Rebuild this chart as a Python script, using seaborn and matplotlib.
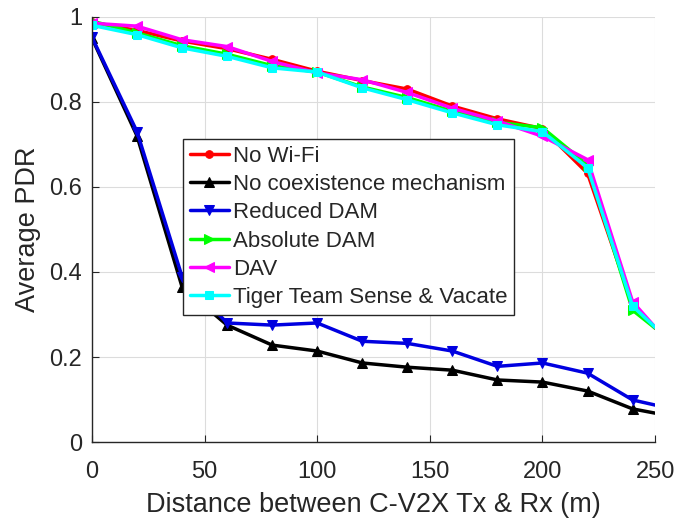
import matplotlib
matplotlib.use("Agg")
import matplotlib.pyplot as plt
import numpy as np
import pandas as pd
import seaborn as sns

# distance (m); last point closes the line at the axis edge, no marker there
distance = [0, 20, 40, 60, 80, 100, 120, 140, 160, 180, 200, 220, 240, 250]

no_wifi = [0.987, 0.968, 0.943, 0.925, 0.900, 0.872, 0.850, 0.830, 0.790,
           0.760, 0.737, 0.632, 0.322, 0.268]
no_coex = [0.950, 0.720, 0.365, 0.275, 0.228, 0.214, 0.186, 0.176, 0.169,
           0.146, 0.141, 0.120, 0.078, 0.068]
reduced_dam = [0.952, 0.730, 0.389, 0.280, 0.275, 0.280, 0.237, 0.232,
               0.214, 0.178, 0.186, 0.162, 0.099, 0.087]
absolute_dam = [0.990, 0.962, 0.932, 0.912, 0.885, 0.870, 0.835, 0.810,
                0.778, 0.752, 0.739, 0.652, 0.310, 0.268]
dav = [0.985, 0.978, 0.946, 0.930, 0.895, 0.868, 0.852, 0.822, 0.785,
       0.755, 0.719, 0.664, 0.330, 0.270]
tiger = [0.980, 0.958, 0.927, 0.907, 0.880, 0.870, 0.833, 0.805, 0.774,
         0.746, 0.730, 0.645, 0.320, 0.270]

series = [
    ("No Wi-Fi", no_wifi, "#ff0000", "o"),
    ("No coexistence mechanism", no_coex, "#000000", "^"),
    ("Reduced DAM", reduced_dam, "#0000e0", "v"),
    ("Absolute DAM", absolute_dam, "#00ff00", ">"),
    ("DAV", dav, "#ff00ff", "<"),
    ("Tiger Team Sense & Vacate", tiger, "#00ffff", "s"),
]

sns.set_theme(style="whitegrid")
plt.rcParams["font.family"] = ["Liberation Sans", "DejaVu Sans"]
txt = "#262626"

fig = plt.figure(figsize=(6.81, 5.25), dpi=100)
ax = fig.add_axes([0.135, 0.158, 0.827, 0.81])

for name, vals, color, marker in series:
    df = pd.DataFrame({"x": distance, "y": vals})
    ms = 5.5 if marker in ("o", "s") else 7.5
    sns.lineplot(data=df, x="x", y="y", ax=ax, color=color, marker=marker,
                 markersize=ms, markeredgecolor=color, linewidth=2.5,
                 markevery=slice(0, 13), label=name, sort=False)

ax.set_xlim(0, 250)
ax.set_ylim(0, 1)
ax.set_xticks([0, 50, 100, 150, 200, 250])
ax.set_yticks([0, 0.2, 0.4, 0.6, 0.8, 1])
ax.set_yticklabels(["0", "0.2", "0.4", "0.6", "0.8", "1"])
ax.set_facecolor("white")
ax.grid(True, color="#dcdcdc", linewidth=0.8)
for side in ("top", "right"):
    ax.spines[side].set_visible(False)
for side in ("left", "bottom"):
    ax.spines[side].set_color("#262626")
    ax.spines[side].set_linewidth(1.0)
ax.tick_params(direction="in", length=5, width=0.8, colors=txt,
               labelsize=17, left=True, bottom=True)
ax.tick_params(axis="x", pad=14)
ax.tick_params(axis="y", pad=7)
ax.set_xlabel("Distance between C-V2X Tx & Rx (m)", fontsize=19.5,
              color=txt, labelpad=6)
ax.set_ylabel("Average PDR", fontsize=19.5, color=txt, labelpad=6)

leg = ax.legend(loc="lower left", bbox_to_anchor=(0.162, 0.299),
                borderaxespad=0, fontsize=16, frameon=True, fancybox=False,
                framealpha=1, edgecolor="#262626", handlelength=1.75,
                handletextpad=0.2, labelspacing=0.33, borderpad=0.3)
leg.get_frame().set_linewidth(1.0)
for t in leg.get_texts():
    t.set_color(txt)

fig.savefig("out.png", dpi=100)
